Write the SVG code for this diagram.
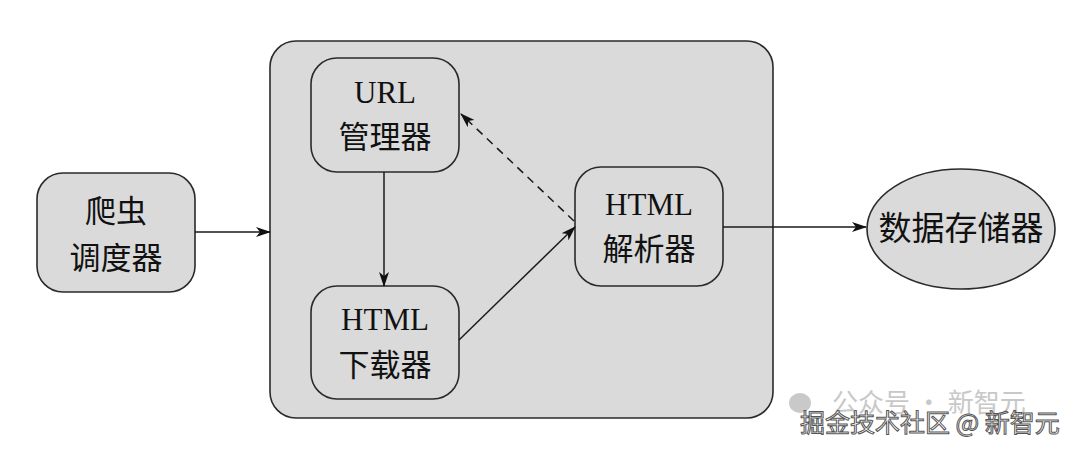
<svg xmlns="http://www.w3.org/2000/svg" width="1080" height="452" viewBox="0 0 1080 452">
<style>
.box{fill:#dadada;stroke:#2a2a2a;stroke-width:1.6}
.lbl{font-family:"Liberation Serif","Noto Sans CJK SC",serif;font-size:31px;fill:#111;text-anchor:middle}
.ln{stroke:#1a1a1a;stroke-width:1.5;fill:none}
.wm1{font-family:"Noto Sans CJK SC",sans-serif;font-size:26px;fill:#c8c8c8}
.wm2{font-family:"Noto Sans CJK SC",sans-serif;font-size:25px;fill:#fff;stroke:#555;stroke-width:1}
</style>
<defs>
<marker id="arr" viewBox="0 0 15 10" refX="14" refY="5" markerWidth="15" markerHeight="10" markerUnits="userSpaceOnUse" orient="auto">
<path d="M0,0 L15,5 L0,10 L4,5 z" fill="#111"/>
</marker>
</defs>
<rect width="1080" height="452" fill="#fff"/>
<g id="container"><rect class="box" x="270" y="41" width="503" height="377" rx="26"/></g>
<g id="scheduler"><rect class="box" x="37" y="173" width="158" height="119" rx="26"/>
<text class="lbl" x="116" y="222">爬虫</text><text class="lbl" x="116" y="269">调度器</text></g>
<g id="url-manager"><rect class="box" x="311" y="58" width="148" height="114" rx="26"/>
<text class="lbl" x="385" y="103">URL</text><text class="lbl" x="385" y="148">管理器</text></g>
<g id="downloader"><rect class="box" x="311" y="286" width="148" height="113" rx="26"/>
<text class="lbl" x="385" y="330">HTML</text><text class="lbl" x="385" y="376">下载器</text></g>
<g id="parser"><rect class="box" x="575" y="167" width="148" height="119" rx="26"/>
<text class="lbl" x="649" y="215">HTML</text><text class="lbl" x="649" y="260">解析器</text></g>
<g id="storage"><ellipse class="box" cx="961" cy="229" rx="94" ry="60"/>
<text class="lbl" x="961" y="240" style="font-size:33px">数据存储器</text></g>
<g id="connectors">
<line class="ln" x1="195" y1="232" x2="270" y2="232" marker-end="url(#arr)"/>
<line class="ln" x1="384" y1="172" x2="384" y2="286" marker-end="url(#arr)"/>
<line class="ln" x1="459" y1="340" x2="575" y2="227" marker-end="url(#arr)"/>
<line class="ln" x1="574" y1="221" x2="461" y2="114" stroke-dasharray="8,6" marker-end="url(#arr)"/>
<line class="ln" x1="723" y1="227" x2="866" y2="227" marker-end="url(#arr)"/>
</g>
<g id="watermark">
<ellipse cx="800" cy="403" rx="11" ry="10" fill="#bbb" opacity="0.8"/>
<text class="wm1" x="832" y="412">公众号 · 新智元</text>
<text class="wm2" x="800" y="432">掘金技术社区 @ 新智元</text>
</g>
</svg>
